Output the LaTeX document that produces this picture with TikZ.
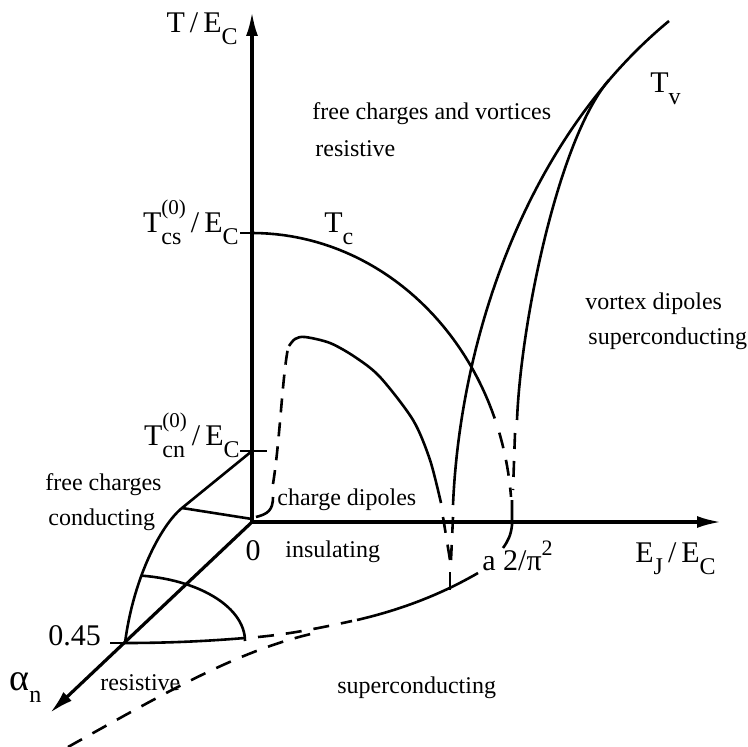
\documentclass[tikz,border=0pt]{standalone}
\usepackage{fontspec}
\setmainfont{Liberation Serif}
\usetikzlibrary{arrows.meta}
\newcommand{\lowtxt}[1]{\raisebox{-0.4em}{\fontsize{12}{12}\selectfont #1}}
\newcommand{\hightxt}[1]{\raisebox{0.6em}{\fontsize{10.5}{10.5}\selectfont #1}}
\tikzset{
  axis/.style={line width=1.6pt, -{Latex[length=12pt,width=6pt]}},
  curve/.style={line width=1.3pt},
  dashcurve/.style={line width=1.3pt, dash pattern=on 8pt off 6pt},
  region/.style={font=\fontsize{12}{14}\selectfont, inner sep=0pt},
  qty/.style={font=\fontsize{15}{17}\selectfont, inner sep=0pt},
}

\begin{document}
\begin{tikzpicture}[x=0.5pt, y=-0.5pt]
  \useasboundingbox (0,0) rectangle (747,747);
  \coordinate (O) at (252,522);
  \coordinate (Ttip) at (252,12);
  \coordinate (Etip) at (721,522);
  \coordinate (Atip) at (50,713);
  \coordinate (Tcs) at (252,233);
  \coordinate (Tcn) at (252,451);
  \coordinate (Pa) at (125,643);
  \coordinate (Vtop) at (669,21);
  \coordinate (Vmeet) at (609,80);

  % axes and ticks
  \draw[axis] (O) -- (Ttip);
  \draw[axis] (O) -- (Etip);
  \draw[axis] (O) -- (Atip);
  \draw[curve] (240,233) -- (Tcs);
  \draw[curve] (240,451) -- (267,451);
  \draw[curve] (110,643) -- (Pa);

  % T_c line
  \draw[curve] plot[domain=90:21, samples=40] ({252+260*cos(\x)},{522-289*sin(\x)});
  \draw[dashcurve] plot[domain=18:5, samples=20] ({252+260*cos(\x)},{522-289*sin(\x)});

  % vortex lines
  \draw[curve] (453,505) .. controls (460,340) and (525,140) .. (Vtop);
  \draw[curve] (517,420) .. controls (521,320) and (559,138) .. (Vmeet);
  \draw[dashcurve] (515,433) -- (513,490);
  \draw[curve] (512,500) -- (512,525) .. controls (511,535) and (508,541) .. (503,548);

  % charge dipole dome
  \draw[curve] (256,517) .. controls (268,514) and (273,510) .. (273,497);
  \draw[dashcurve, dash pattern=on 7pt off 5pt] (273,484) .. controls (280,440) and (282,380) .. (288,348);
  \draw[curve] plot[smooth] coordinates {(289,346) (295,339) (305,337) (330,343) (355,357) (380,377) (413,420) (430,460) (441,503)};
  \draw[dashcurve] (443,517) -- (450,560);
  \draw[dashcurve] (453,517) -- (451,560);
  \draw[curve] (450,572) -- (450,590);

  % alpha plane
  \draw[curve] (Tcn) -- (182,508) .. controls (160,526) and (133,580) .. (Pa);
  \draw[curve] (182,508) -- (252,519);
  \draw[curve] plot[domain=82:0, samples=30] ({125+120*cos(\x)},{641-66*sin(\x)});
  \draw[curve] (Pa) .. controls (180,643) and (220,640) .. (245,638);
  \draw[dashcurve] (258,637) .. controls (290,634) and (320,628) .. (352,621);
  \draw[curve] (357,620) .. controls (400,610) and (440,595) .. (478,573);
  \draw[dashcurve] (68,747) .. controls (170,690) and (240,650) .. (315,633);

  % labels
  \node[qty, anchor=base east] (lT) at (238,33) {T\,/\,E\lowtxt{C}};
  \node[qty, anchor=base east] (lTcs) at (239,233) {T\rlap{\lowtxt{cs}}\hightxt{(0)}\,/\,E\lowtxt{C}};
  \node[qty, anchor=base east] (lTcn) at (240,445) {T\rlap{\lowtxt{cn}}\hightxt{(0)}\,/\,E\lowtxt{C}};
  \node[qty, anchor=base west] (lTc) at (324,233) {T\lowtxt{c}};
  \node[qty, anchor=base west] (lTv) at (650,93) {T\lowtxt{v}};
  \node[qty, anchor=base west] (lEJ) at (635,562) {E\lowtxt{J}\,/\,E\lowtxt{C}};
  \node[qty, anchor=base west] (lq) at (482,570) {a 2/π\raisebox{0.5em}{\fontsize{11}{11}\selectfont 2}};
  \node[qty, anchor=base] (lzero) at (253,560) {0};
  \node[qty, anchor=base west] (lhalf) at (48,645) {0.45};
  \node[qty, anchor=base west] (lalpha) at (9,690) {{\fontsize{19}{19}\selectfont α}\lowtxt{n}};

  \node[region, anchor=base west] (rfree) at (312,120) {free charges and vortices};
  \node[region, anchor=base west] (rres) at (315,157) {resistive};
  \node[region, anchor=base west] (rvort) at (585,310) {vortex dipoles};
  \node[region, anchor=base west] (rsup) at (588,345) {superconducting};
  \node[region, anchor=base west] (rfc) at (45,490) {free charges};
  \node[region, anchor=base west] (rcond) at (48,525) {conducting};
  \node[region, anchor=base west] (rdip) at (277,505) {charge dipoles};
  \node[region, anchor=base west] (rins) at (285,557) {insulating};
  \node[region, anchor=base west] (rres2) at (100,690) {resistive};
  \node[region, anchor=base west] (rsup2) at (337,693) {superconducting};
\end{tikzpicture}
\end{document}
